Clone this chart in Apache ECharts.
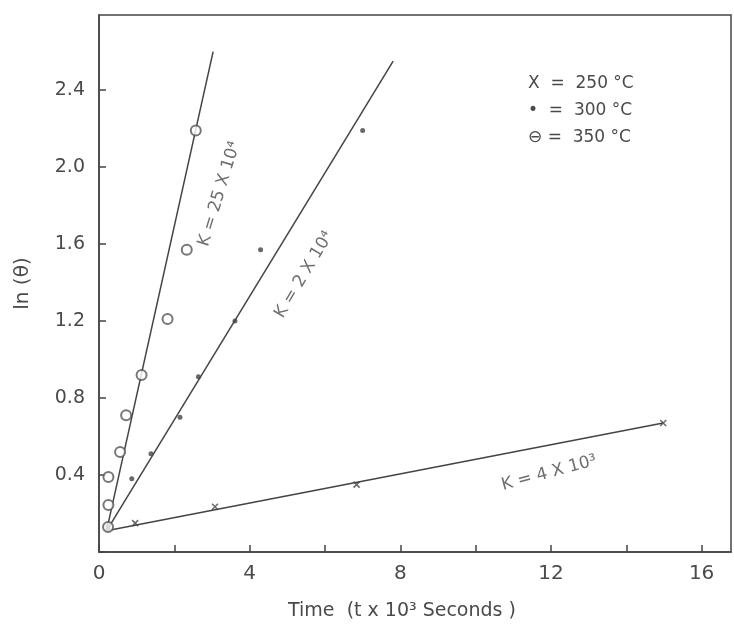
<!DOCTYPE html>
<html>
<head>
<meta charset="utf-8">
<script src="https://cdn.jsdelivr.net/npm/echarts@6/dist/echarts.min.js"></script>
<style>
html,body{margin:0;padding:0;background:#fff;}
#c{width:734px;height:637px;}
</style>
</head>
<body>
<div id="c"></div>
<script>
// Data
const xTicks = [0, 4, 8, 12, 16];
const yTicks = [0.4, 0.8, 1.2, 1.6, 2.0, 2.4];

// 250 °C  (x markers)
const t250 = [0.24, 0.96, 3.08, 6.84, 14.98];
const v250 = [0.13, 0.15, 0.235, 0.35, 0.67];
// 300 °C  (dots)
const t300 = [0.24, 0.87, 1.38, 2.15, 2.64, 3.61, 4.29, 7.0];
const v300 = [0.13, 0.38, 0.51, 0.70, 0.91, 1.20, 1.57, 2.19];
// 350 °C  (circles)
const t350 = [0.24, 0.25, 0.25, 0.56, 0.72, 1.13, 1.82, 2.33, 2.57];
const v350 = [0.13, 0.244, 0.39, 0.52, 0.71, 0.92, 1.21, 1.57, 2.19];

// Fitted straight lines (endpoints)
const fit250 = [[0.2, 0.11], [14.98, 0.67]];
const fit300 = [[0.2, 0.11], [7.81, 2.55]];
const fit350 = [[0.2, 0.11], [3.03, 2.6]];

// Rate-constant annotations: [x, y, text, rotation deg]
const notes = [
  [3.2, 1.86, 'K = 25 X 10⁴', 73],
  [5.45, 1.44, 'K = 2 X 10⁴', 59],
  [11.95, 0.41, 'K = 4 X 10³', 15]
];

const legendLines = ['X  =  250 °C', '•  =  300 °C', '⊖ =  350 °C'];

const ink = '#444';
const txt = '#4a4a4a';
const font = 'DejaVu Sans';

const zip = (a, b) => a.map((v, i) => [v, b[i]]);

const chart = echarts.init(document.getElementById('c'));
chart.setOption({
  backgroundColor: '#fff',
  animation: false,
  grid: {left: 99, right: 3, top: 15, bottom: 85, show: true, borderColor: ink, borderWidth: 1.5},
  xAxis: {
    type: 'value', min: 0, max: 16.78, interval: 2,
    name: 'Time  (t x 10³ Seconds )', nameLocation: 'middle', nameGap: 50,
    nameTextStyle: {fontFamily: font, fontSize: 19, color: txt, padding: [0, 26, 0, 0]},
    axisLine: {show: true, lineStyle: {color: ink, width: 1.5}},
    axisTick: {show: true, inside: true, length: 7, lineStyle: {color: ink, width: 1.5}},
    axisLabel: {
      margin: 12, fontFamily: font, fontSize: 20, color: txt, showMaxLabel: false,
      formatter: v => xTicks.some(t => Math.abs(t - v) < 1e-6) ? String(v) : ''
    },
    splitLine: {show: false}
  },
  yAxis: {
    type: 'value', min: 0, max: 2.79, interval: 0.4,
    name: 'ln (θ)', nameLocation: 'middle', nameGap: 66,
    nameTextStyle: {fontFamily: font, fontSize: 20, color: txt},
    axisLine: {show: true, lineStyle: {color: ink, width: 1.5}},
    axisTick: {show: true, inside: true, length: 7, lineStyle: {color: ink, width: 1.5}},
    axisLabel: {
      margin: 14, fontFamily: font, fontSize: 19, color: txt, showMaxLabel: false,
      formatter: v => yTicks.some(t => Math.abs(t - v) < 1e-6) ? v.toFixed(1) : ''
    },
    splitLine: {show: false}
  },
  series: [
    {type: 'line', data: fit250, symbol: 'none', lineStyle: {color: ink, width: 1.5}, z: 2},
    {type: 'line', data: fit300, symbol: 'none', lineStyle: {color: ink, width: 1.5}, z: 2},
    {type: 'line', data: fit350, symbol: 'none', lineStyle: {color: ink, width: 1.5}, z: 2},
    {type: 'scatter', data: zip(t250, v250), symbol: 'path://M0,0L10,10M10,0L0,10', symbolSize: 6,
      itemStyle: {color: 'none', borderColor: ink, borderWidth: 1.5}, z: 3},
    {type: 'scatter', data: zip(t300, v300), symbol: 'circle', symbolSize: 5,
      itemStyle: {color: ink}, z: 3},
    {type: 'scatter', data: zip(t350, v350), symbol: 'emptyCircle', symbolSize: 10,
      itemStyle: {color: '#555', borderColor: '#555', borderWidth: 2.2}, z: 4},
    {type: 'scatter', data: notes.map(n => ({value: [n[0], n[1]], label: {rotate: n[3], formatter: n[2]}})),
      symbolSize: 0, silent: true,
      label: {show: true, position: 'inside', fontFamily: font, fontSize: 17, color: txt}, z: 5}
  ],
  graphic: legendLines.map((s, i) => ({
    type: 'text', left: 528, top: 75 + i * 27,
    style: {text: s, fontFamily: font, fontSize: 17, fill: txt}
  }))
});
</script>
</body>
</html>
